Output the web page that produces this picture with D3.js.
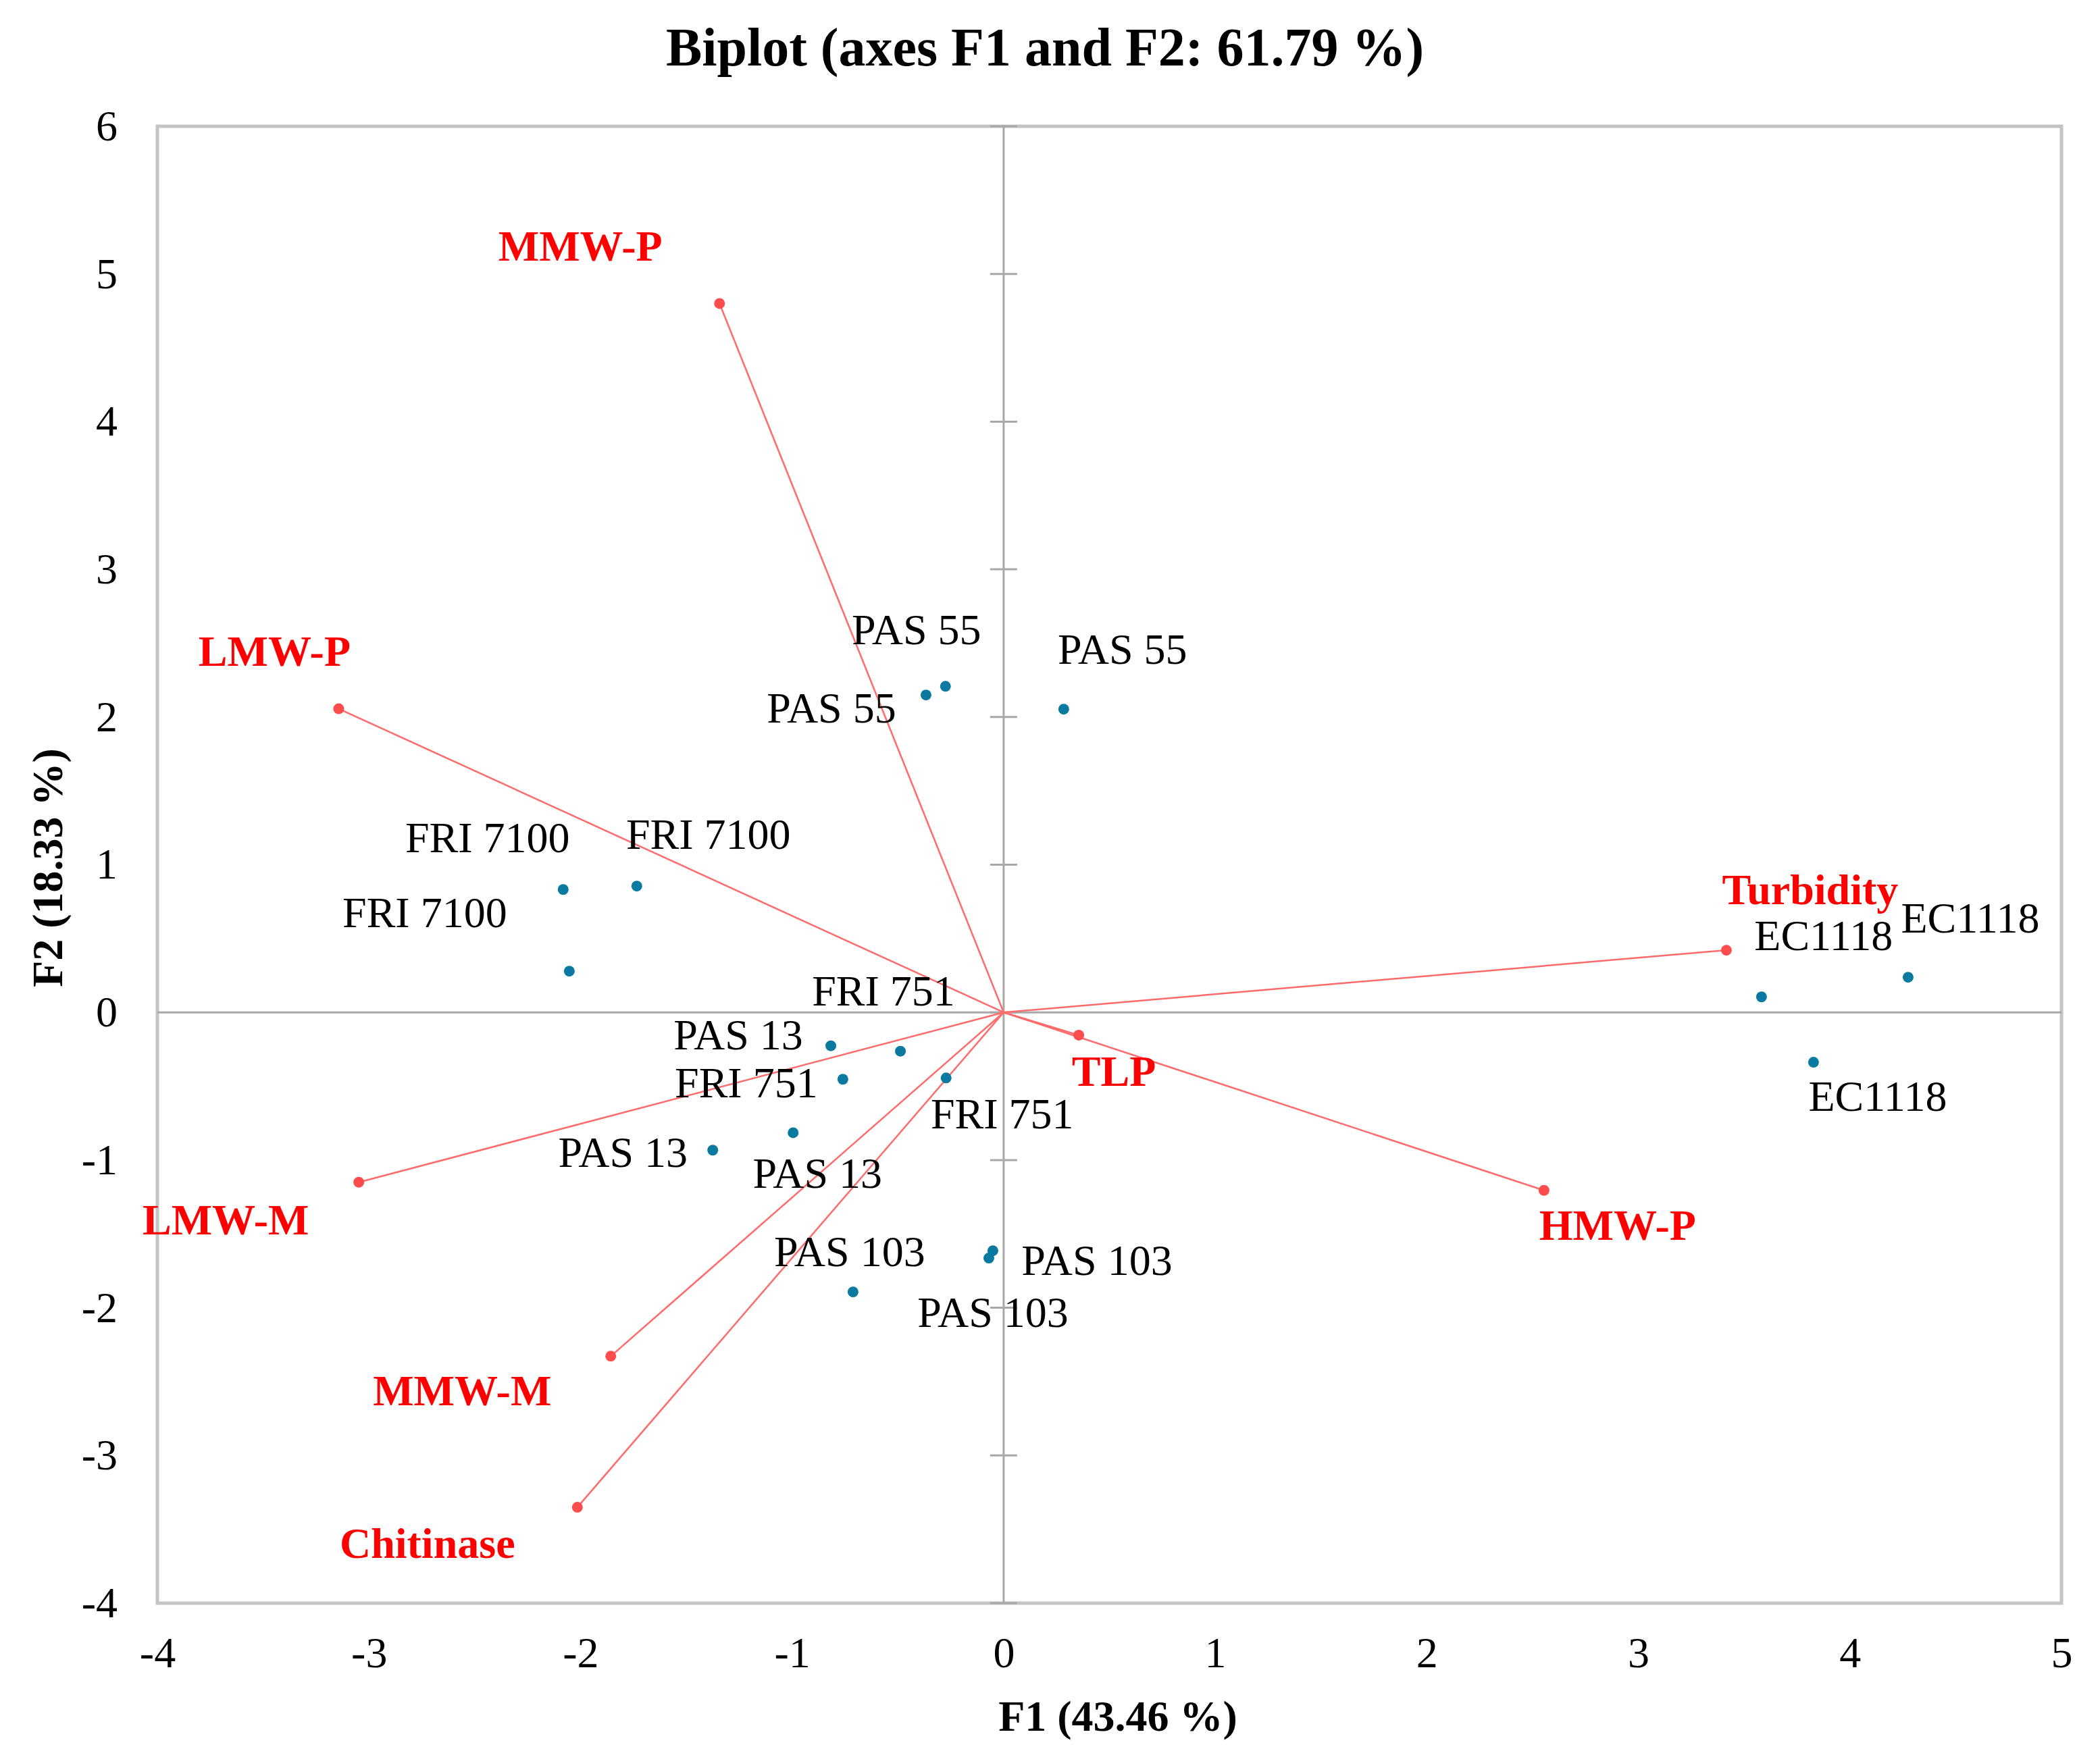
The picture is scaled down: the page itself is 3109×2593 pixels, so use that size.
<!DOCTYPE html>
<html>
<head>
<meta charset="utf-8">
<script src="https://cdn.jsdelivr.net/npm/d3@7"></script>
<style>
  body { margin: 0; background: #fff; }
  text { font-family: "Liberation Serif", "Times New Roman", serif; }
</style>
</head>
<body>
<script>
// variables (active), F1 / F2 coordinates
const varNames = ["MMW-P", "LMW-P", "Turbidity", "TLP", "HMW-P", "LMW-M", "MMW-M", "Chitinase"];
const varF1 = [-1.343, -3.143, 3.416, 0.355, 2.554, -3.048, -1.857, -2.015];
const varF2 = [4.80, 2.056, 0.421, -0.154, -1.205, -1.150, -2.328, -3.351];

// observations
const obsNames = ["PAS 55", "PAS 55", "PAS 55",
                  "FRI 7100", "FRI 7100", "FRI 7100",
                  "FRI 751", "FRI 751", "FRI 751",
                  "PAS 13", "PAS 13", "PAS 13",
                  "PAS 103", "PAS 103", "PAS 103",
                  "EC1118", "EC1118", "EC1118"];
const obsF1 = [-0.367, -0.275, 0.284, -2.082, -1.734, -2.053, -0.488, -0.760, -0.272,
               -0.817, -1.375, -0.995, -0.712, -0.051, -0.070, 3.582, 4.275, 3.828];
const obsF2 = [2.149, 2.208, 2.053, 0.832, 0.855, 0.279, -0.263, -0.453, -0.444,
               -0.226, -0.933, -0.815, -1.893, -1.614, -1.664, 0.105, 0.238, -0.338];

const xTicks = [-4, -3, -2, -1, 0, 1, 2, 3, 4, 5];
const yTicks = [-4, -3, -2, -1, 0, 1, 2, 3, 4, 5, 6];

// label placement (pixel offsets from each mark)
const varLabelOffset = [[-206, -85], [-95, -85], [124, -89], [52, 54], [109, 52], [-197, 56], [-220, 52], [-222, 54]];
const obsLabelOffset = [[-140, 20], [-43, -83], [87, -88],
                        [-112, -76], [106, -76], [-214, -86],
                        [-25, -89], [-143, 6], [83, 54],
                        [-137, -16], [-133, 4], [36, 60],
                        [-5, -59], [154, 15], [6, 81],
                        [92, -90], [92, -87], [95, 51]];

let width = 3109;
let height = 2593;
let plotLeft = 233, plotRight = 3052, plotTop = 187, plotBottom = 2374;

let svg = d3.select("body").append("svg")
            .attr("width", width)
            .attr("height", height);

let x = d3.scaleLinear().domain([-4, 5]).range([plotLeft, plotRight]);
let y = d3.scaleLinear().domain([-4, 6]).range([plotBottom, plotTop]);

// frame
svg.append("rect")
   .attr("x", plotLeft).attr("y", plotTop)
   .attr("width", plotRight - plotLeft).attr("height", plotBottom - plotTop)
   .attr("fill", "none")
   .attr("stroke", "#c4c4c4")
   .attr("stroke-width", 5);

// tick labels
let yAxis = svg.append("g")
               .attr("transform", "translate(" + plotLeft + ",0)")
               .call(d3.axisLeft(y).tickValues(yTicks).tickSize(0).tickPadding(59).tickFormat(d => String(d)));
let xAxis = svg.append("g")
               .attr("transform", "translate(0," + plotBottom + ")")
               .call(d3.axisBottom(x).tickValues(xTicks).tickSize(0).tickPadding(50).tickFormat(d => String(d)));
[xAxis, yAxis].forEach(function(g) {
  g.select(".domain").remove();
  g.selectAll("text")
   .attr("fill", "#000")
   .style("font-family", "'Liberation Serif', serif")
   .style("font-size", "64px");
});

// zero lines
svg.append("line")
   .attr("x1", plotLeft).attr("x2", plotRight)
   .attr("y1", y(0)).attr("y2", y(0))
   .attr("stroke", "#a8a8a8").attr("stroke-width", 3);
svg.append("line")
   .attr("x1", x(0)).attr("x2", x(0))
   .attr("y1", plotTop).attr("y2", plotBottom)
   .attr("stroke", "#a8a8a8").attr("stroke-width", 3);
svg.selectAll(".ytick")
   .data(yTicks)
   .enter().append("line")
   .attr("class", "ytick")
   .attr("x1", x(0) - 20).attr("x2", x(0) + 20)
   .attr("y1", d => y(d)).attr("y2", d => y(d))
   .attr("stroke", "#a8a8a8").attr("stroke-width", 3);

// variable vectors
let vars = varNames.map((n, i) => ({ name: n, f1: varF1[i], f2: varF2[i], off: varLabelOffset[i] }));
let obs = obsNames.map((n, i) => ({ name: n, f1: obsF1[i], f2: obsF2[i], off: obsLabelOffset[i] }));

svg.selectAll(".vector")
   .data(vars)
   .enter().append("line")
   .attr("class", "vector")
   .attr("x1", x(0)).attr("y1", y(0))
   .attr("x2", d => x(d.f1)).attr("y2", d => y(d.f2))
   .attr("stroke", "#ff6b6b")
   .attr("stroke-width", 2.5);

svg.selectAll(".varpt")
   .data(vars)
   .enter().append("circle")
   .attr("class", "varpt")
   .attr("cx", d => x(d.f1)).attr("cy", d => y(d.f2))
   .attr("r", 8)
   .attr("fill", "#ff4d4d");

svg.selectAll(".obspt")
   .data(obs)
   .enter().append("circle")
   .attr("class", "obspt")
   .attr("cx", d => x(d.f1)).attr("cy", d => y(d.f2))
   .attr("r", 8)
   .attr("fill", "#0a7aa0");

svg.selectAll(".obslabel")
   .data(obs)
   .enter().append("text")
   .attr("class", "obslabel")
   .attr("x", d => x(d.f1) + d.off[0])
   .attr("y", d => y(d.f2) + d.off[1])
   .attr("dy", "0.33em")
   .attr("text-anchor", "middle")
   .style("font-size", "64px")
   .attr("fill", "#000")
   .text(d => d.name);

svg.selectAll(".varlabel")
   .data(vars)
   .enter().append("text")
   .attr("class", "varlabel")
   .attr("x", d => x(d.f1) + d.off[0])
   .attr("y", d => y(d.f2) + d.off[1])
   .attr("dy", "0.33em")
   .attr("text-anchor", "middle")
   .style("font-size", "64px")
   .style("font-weight", "bold")
   .attr("fill", "#ff0000")
   .text(d => d.name);

// titles
svg.append("text")
   .attr("x", 1547).attr("y", 97)
   .attr("text-anchor", "middle")
   .style("font-size", "80px")
   .style("font-weight", "bold")
   .text("Biplot (axes F1 and F2: 61.79 %)");

svg.append("text")
   .attr("x", 1655).attr("y", 2563)
   .attr("text-anchor", "middle")
   .style("font-size", "64px")
   .style("font-weight", "bold")
   .text("F1 (43.46 %)");

svg.append("text")
   .attr("transform", "translate(92,1285) rotate(-90)")
   .attr("text-anchor", "middle")
   .style("font-size", "64px")
   .style("font-weight", "bold")
   .text("F2 (18.33 %)");
</script>
</body>
</html>
